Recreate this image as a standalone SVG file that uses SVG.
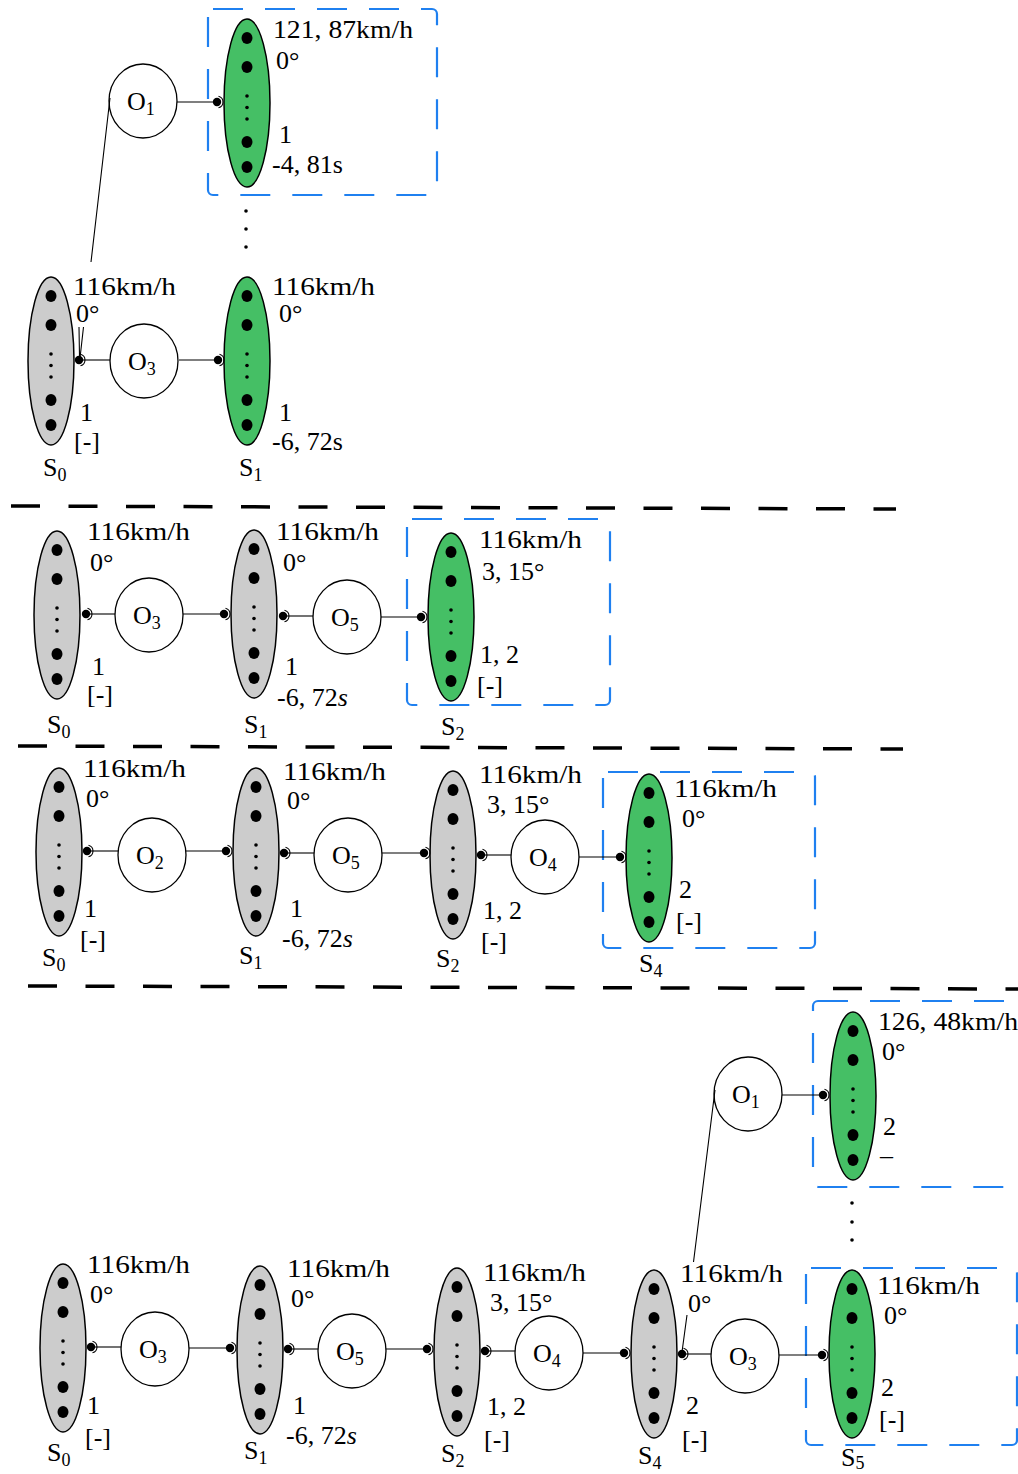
<svg xmlns="http://www.w3.org/2000/svg" xmlns:xlink="http://www.w3.org/1999/xlink" width="1018" height="1474" viewBox="0 0 1018 1474">
<style>
.g{fill:#cccccc;stroke:#000;stroke-width:1.5}
.gr{fill:#45bf65;stroke:#000;stroke-width:1.5}
.op{fill:#fff;stroke:#000;stroke-width:1.3}
.t{font-family:"Liberation Serif","Times New Roman",serif;font-size:26px;fill:#000}
.sub{font-size:18px}
.edge{stroke:#000;stroke-width:1.1;fill:none}
.box{fill:none;stroke:#1f80f0;stroke-width:2.2;stroke-dasharray:30 22}
.sep{stroke:#000;stroke-width:3.5;stroke-dasharray:29 28.5}
.sd{fill:#000}
</style>
<defs>
<g id="dots">
<ellipse cx="0" cy="-65" rx="5.5" ry="6"/>
<ellipse cx="0" cy="-36" rx="5.5" ry="6"/>
<ellipse cx="0" cy="39" rx="5.5" ry="6"/>
<ellipse cx="0" cy="64" rx="5.5" ry="6"/>
<circle cx="0" cy="-7" r="1.8"/>
<circle cx="0" cy="4.5" r="1.8"/>
<circle cx="0" cy="16" r="1.8"/>
</g>
<g id="tip">
<circle cx="0" cy="0" r="4.2" fill="#000"/>
<path d="M1.5,-5.8 A6,6 0 0 1 1.5,5.8" fill="none" stroke="#000" stroke-width="1.1"/>
</g>
</defs>
<rect width="1018" height="1474" fill="#fff"/>

<g id="separators">
<line class="sep" x1="11" y1="506" x2="896" y2="509"/>
<line class="sep" x1="18" y1="746" x2="903" y2="749"/>
<line class="sep" x1="28" y1="986" x2="1018" y2="989"/>
</g>
<g id="frames">
<rect class="box" x="208" y="9" width="229" height="186" rx="5"/>
<rect class="box" x="407" y="519" width="203" height="186" rx="5"/>
<rect class="box" x="603" y="772" width="212" height="176" rx="5"/>
<rect class="box" x="813" y="1001" width="215" height="186" rx="5"/>
<rect class="box" x="806" y="1268" width="211" height="177" rx="5"/>
</g>
<g id="vdots" class="sd">
<circle cx="246" cy="211" r="1.8"/><circle cx="246" cy="229" r="1.8"/><circle cx="246" cy="247" r="1.8"/>
<circle cx="852" cy="1203" r="1.8"/><circle cx="852" cy="1222" r="1.8"/><circle cx="852" cy="1240" r="1.8"/>
</g>

<!-- ===== Section 1 ===== -->
<g id="s1-S1top">
<ellipse class="gr" cx="247" cy="103" rx="23" ry="84"/>
<use href="#dots" x="247" y="103"/>
<text class="t" x="273" y="38" textLength="140" lengthAdjust="spacingAndGlyphs">121, 87km/h</text>
<text class="t" x="276" y="69">0°</text>
<text class="t" x="279" y="143">1</text>
<text class="t" x="272" y="173">-4, 81s</text>
</g>
<g id="s1-O1">
<ellipse class="op" cx="143" cy="101" rx="34" ry="37"/>
<text class="t" x="127" y="110">O<tspan class="sub" dy="5">1</tspan></text>
</g>
<g id="s1-S0">
<ellipse class="g" cx="51" cy="361" rx="23" ry="84"/>
<use href="#dots" x="51" y="361"/>
<text class="t" x="73" y="295" textLength="103" lengthAdjust="spacingAndGlyphs">116km/h</text>
<text class="t" x="76" y="322">0°</text>
<text class="t" x="80" y="421">1</text>
<text class="t" x="74" y="450">[-]</text>
<text class="t" x="43" y="476">S<tspan class="sub" dy="5">0</tspan></text>
</g>
<g id="s1-O3">
<ellipse class="op" cx="144" cy="361" rx="34" ry="37"/>
<text class="t" x="128" y="370">O<tspan class="sub" dy="5">3</tspan></text>
</g>
<g id="s1-S1">
<ellipse class="gr" cx="247" cy="361" rx="23" ry="84"/>
<use href="#dots" x="247" y="361"/>
<text class="t" x="272" y="295" textLength="103" lengthAdjust="spacingAndGlyphs">116km/h</text>
<text class="t" x="279" y="322">0°</text>
<text class="t" x="279" y="421">1</text>
<text class="t" x="272" y="450">-6, 72s</text>
<text class="t" x="239" y="476">S<tspan class="sub" dy="5">1</tspan></text>
</g>

<!-- ===== Section 2 ===== -->
<g id="s2-S0">
<ellipse class="g" cx="57" cy="615" rx="23" ry="84"/>
<use href="#dots" x="57" y="615"/>
<text class="t" x="87" y="540" textLength="103" lengthAdjust="spacingAndGlyphs">116km/h</text>
<text class="t" x="90" y="571">0°</text>
<text class="t" x="92" y="675">1</text>
<text class="t" x="87" y="703">[-]</text>
<text class="t" x="47" y="733">S<tspan class="sub" dy="5">0</tspan></text>
</g>
<g id="s2-O3">
<ellipse class="op" cx="149" cy="615" rx="34" ry="37"/>
<text class="t" x="133" y="624">O<tspan class="sub" dy="5">3</tspan></text>
</g>
<g id="s2-S1">
<ellipse class="g" cx="254" cy="614" rx="23" ry="84"/>
<use href="#dots" x="254" y="614"/>
<text class="t" x="276" y="540" textLength="103" lengthAdjust="spacingAndGlyphs">116km/h</text>
<text class="t" x="283" y="571">0°</text>
<text class="t" x="285" y="675">1</text>
<text class="t" x="277" y="706">-6, 72<tspan font-style="italic">s</tspan></text>
<text class="t" x="244" y="733">S<tspan class="sub" dy="5">1</tspan></text>
</g>
<g id="s2-O5">
<ellipse class="op" cx="347" cy="617" rx="34" ry="37"/>
<text class="t" x="331" y="626">O<tspan class="sub" dy="5">5</tspan></text>
</g>
<g id="s2-S2">
<ellipse class="gr" cx="451" cy="617" rx="23" ry="84"/>
<use href="#dots" x="451" y="617"/>
<text class="t" x="479" y="548" textLength="103" lengthAdjust="spacingAndGlyphs">116km/h</text>
<text class="t" x="482" y="580">3, 15°</text>
<text class="t" x="480" y="663">1, 2</text>
<text class="t" x="477" y="694">[-]</text>
<text class="t" x="441" y="735">S<tspan class="sub" dy="5">2</tspan></text>
</g>

<!-- ===== Section 3 ===== -->
<g id="s3-S0">
<ellipse class="g" cx="59" cy="852" rx="23" ry="84"/>
<use href="#dots" x="59" y="852"/>
<text class="t" x="83" y="777" textLength="103" lengthAdjust="spacingAndGlyphs">116km/h</text>
<text class="t" x="86" y="807">0°</text>
<text class="t" x="84" y="917">1</text>
<text class="t" x="80" y="948">[-]</text>
<text class="t" x="42" y="966">S<tspan class="sub" dy="5">0</tspan></text>
</g>
<g id="s3-O2">
<ellipse class="op" cx="152" cy="855" rx="34" ry="37"/>
<text class="t" x="136" y="864">O<tspan class="sub" dy="5">2</tspan></text>
</g>
<g id="s3-S1">
<ellipse class="g" cx="256" cy="852" rx="23" ry="84"/>
<use href="#dots" x="256" y="852"/>
<text class="t" x="283" y="780" textLength="103" lengthAdjust="spacingAndGlyphs">116km/h</text>
<text class="t" x="287" y="809">0°</text>
<text class="t" x="290" y="917">1</text>
<text class="t" x="282" y="947">-6, 72<tspan font-style="italic">s</tspan></text>
<text class="t" x="239" y="964">S<tspan class="sub" dy="5">1</tspan></text>
</g>
<g id="s3-O5">
<ellipse class="op" cx="348" cy="855" rx="34" ry="37"/>
<text class="t" x="332" y="864">O<tspan class="sub" dy="5">5</tspan></text>
</g>
<g id="s3-S2">
<ellipse class="g" cx="453" cy="855" rx="23" ry="84"/>
<use href="#dots" x="453" y="855"/>
<text class="t" x="479" y="783" textLength="103" lengthAdjust="spacingAndGlyphs">116km/h</text>
<text class="t" x="487" y="813">3, 15°</text>
<text class="t" x="483" y="919">1, 2</text>
<text class="t" x="481" y="950">[-]</text>
<text class="t" x="436" y="967">S<tspan class="sub" dy="5">2</tspan></text>
</g>
<g id="s3-O4">
<ellipse class="op" cx="545" cy="857" rx="34" ry="37"/>
<text class="t" x="529" y="866">O<tspan class="sub" dy="5">4</tspan></text>
</g>
<g id="s3-S4">
<ellipse class="gr" cx="649" cy="858" rx="23" ry="84"/>
<use href="#dots" x="649" y="858"/>
<text class="t" x="674" y="797" textLength="103" lengthAdjust="spacingAndGlyphs">116km/h</text>
<text class="t" x="682" y="827">0°</text>
<text class="t" x="679" y="898">2</text>
<text class="t" x="676" y="930">[-]</text>
<text class="t" x="639" y="972">S<tspan class="sub" dy="5">4</tspan></text>
</g>

<!-- ===== Section 4 ===== -->
<g id="s4-O1">
<ellipse class="op" cx="748" cy="1094" rx="34" ry="37"/>
<text class="t" x="732" y="1103">O<tspan class="sub" dy="5">1</tspan></text>
</g>
<g id="s4-S5top">
<ellipse class="gr" cx="853" cy="1096" rx="23" ry="84"/>
<use href="#dots" x="853" y="1096"/>
<text class="t" x="878" y="1030" textLength="140" lengthAdjust="spacingAndGlyphs">126, 48km/h</text>
<text class="t" x="882" y="1060">0°</text>
<text class="t" x="883" y="1135">2</text>
<text class="t" x="880" y="1164">–</text>
</g>
<g id="s4-S0">
<ellipse class="g" cx="63" cy="1348" rx="23" ry="84"/>
<use href="#dots" x="63" y="1348"/>
<text class="t" x="87" y="1273" textLength="103" lengthAdjust="spacingAndGlyphs">116km/h</text>
<text class="t" x="90" y="1303">0°</text>
<text class="t" x="87" y="1414">1</text>
<text class="t" x="85" y="1446">[-]</text>
<text class="t" x="47" y="1461">S<tspan class="sub" dy="5">0</tspan></text>
</g>
<g id="s4-O3a">
<ellipse class="op" cx="155" cy="1349" rx="34" ry="37"/>
<text class="t" x="139" y="1358">O<tspan class="sub" dy="5">3</tspan></text>
</g>
<g id="s4-S1">
<ellipse class="g" cx="260" cy="1350" rx="23" ry="84"/>
<use href="#dots" x="260" y="1350"/>
<text class="t" x="287" y="1277" textLength="103" lengthAdjust="spacingAndGlyphs">116km/h</text>
<text class="t" x="291" y="1307">0°</text>
<text class="t" x="293" y="1414">1</text>
<text class="t" x="286" y="1444">-6, 72<tspan font-style="italic">s</tspan></text>
<text class="t" x="244" y="1459">S<tspan class="sub" dy="5">1</tspan></text>
</g>
<g id="s4-O5">
<ellipse class="op" cx="352" cy="1351" rx="34" ry="37"/>
<text class="t" x="336" y="1360">O<tspan class="sub" dy="5">5</tspan></text>
</g>
<g id="s4-S2">
<ellipse class="g" cx="457" cy="1352" rx="23" ry="84"/>
<use href="#dots" x="457" y="1352"/>
<text class="t" x="483" y="1281" textLength="103" lengthAdjust="spacingAndGlyphs">116km/h</text>
<text class="t" x="490" y="1311">3, 15°</text>
<text class="t" x="487" y="1415">1, 2</text>
<text class="t" x="484" y="1448">[-]</text>
<text class="t" x="441" y="1462">S<tspan class="sub" dy="5">2</tspan></text>
</g>
<g id="s4-O4">
<ellipse class="op" cx="549" cy="1353" rx="34" ry="37"/>
<text class="t" x="533" y="1362">O<tspan class="sub" dy="5">4</tspan></text>
</g>
<g id="s4-S4">
<ellipse class="g" cx="654" cy="1354" rx="23" ry="84"/>
<use href="#dots" x="654" y="1354"/>
<text class="t" x="680" y="1282" textLength="103" lengthAdjust="spacingAndGlyphs">116km/h</text>
<text class="t" x="688" y="1312">0°</text>
<text class="t" x="686" y="1414">2</text>
<text class="t" x="682" y="1448">[-]</text>
<text class="t" x="638" y="1464">S<tspan class="sub" dy="5">4</tspan></text>
</g>
<g id="s4-O3b">
<ellipse class="op" cx="745" cy="1356" rx="34" ry="37"/>
<text class="t" x="729" y="1365">O<tspan class="sub" dy="5">3</tspan></text>
</g>
<g id="s4-S5">
<ellipse class="gr" cx="852" cy="1354" rx="23" ry="84"/>
<use href="#dots" x="852" y="1354"/>
<text class="t" x="877" y="1294" textLength="103" lengthAdjust="spacingAndGlyphs">116km/h</text>
<text class="t" x="884" y="1324">0°</text>
<text class="t" x="881" y="1396">2</text>
<text class="t" x="879" y="1428">[-]</text>
<text class="t" x="841" y="1466">S<tspan class="sub" dy="3">5</tspan></text>
</g>

<!-- ===== Connectors ===== -->
<g id="connectors">
<line class="edge" x1="177" y1="102" x2="217" y2="102"/>
<use href="#tip" x="217" y="102"/>
<path class="edge" d="M110,98 L91,262 M83.5,327 L80,358 M79,327 L79.5,357"/>
<line class="edge" x1="79" y1="360" x2="110" y2="360"/>
<use href="#tip" x="79" y="360"/>
<line class="edge" x1="179" y1="360" x2="218" y2="360"/>
<use href="#tip" x="218" y="360"/>
<line class="edge" x1="86" y1="614" x2="115" y2="614"/>
<use href="#tip" x="86" y="614"/>
<line class="edge" x1="183" y1="614" x2="224" y2="614"/>
<use href="#tip" x="224" y="614"/>
<line class="edge" x1="283" y1="616" x2="313" y2="616"/>
<use href="#tip" x="283" y="616"/>
<line class="edge" x1="381" y1="617" x2="421" y2="617"/>
<use href="#tip" x="421" y="617"/>
<line class="edge" x1="87" y1="851" x2="118" y2="851"/>
<use href="#tip" x="87" y="851"/>
<line class="edge" x1="186" y1="851" x2="226" y2="851"/>
<use href="#tip" x="226" y="851"/>
<line class="edge" x1="284" y1="853" x2="314" y2="853"/>
<use href="#tip" x="284" y="853"/>
<line class="edge" x1="382" y1="853" x2="424" y2="853"/>
<use href="#tip" x="424" y="853"/>
<line class="edge" x1="481" y1="855" x2="511" y2="855"/>
<use href="#tip" x="481" y="855"/>
<line class="edge" x1="579" y1="857" x2="620" y2="857"/>
<use href="#tip" x="620" y="857"/>
<line class="edge" x1="782" y1="1095" x2="823" y2="1095"/>
<use href="#tip" x="823" y="1095"/>
<path class="edge" d="M715,1090 L693.5,1262 M687,1315 L682,1352"/>
<line class="edge" x1="91" y1="1347" x2="121" y2="1347"/>
<use href="#tip" x="91" y="1347"/>
<line class="edge" x1="189" y1="1348" x2="230" y2="1348"/>
<use href="#tip" x="230" y="1348"/>
<line class="edge" x1="288" y1="1349" x2="318" y2="1349"/>
<use href="#tip" x="288" y="1349"/>
<line class="edge" x1="386" y1="1349" x2="427" y2="1349"/>
<use href="#tip" x="427" y="1349"/>
<line class="edge" x1="485" y1="1351" x2="515" y2="1351"/>
<use href="#tip" x="485" y="1351"/>
<line class="edge" x1="583" y1="1353" x2="624" y2="1353"/>
<use href="#tip" x="624" y="1353"/>
<line class="edge" x1="682" y1="1354" x2="711" y2="1354"/>
<use href="#tip" x="682" y="1354"/>
<line class="edge" x1="779" y1="1355" x2="822" y2="1355"/>
<use href="#tip" x="822" y="1355"/>
</g>
</svg>
